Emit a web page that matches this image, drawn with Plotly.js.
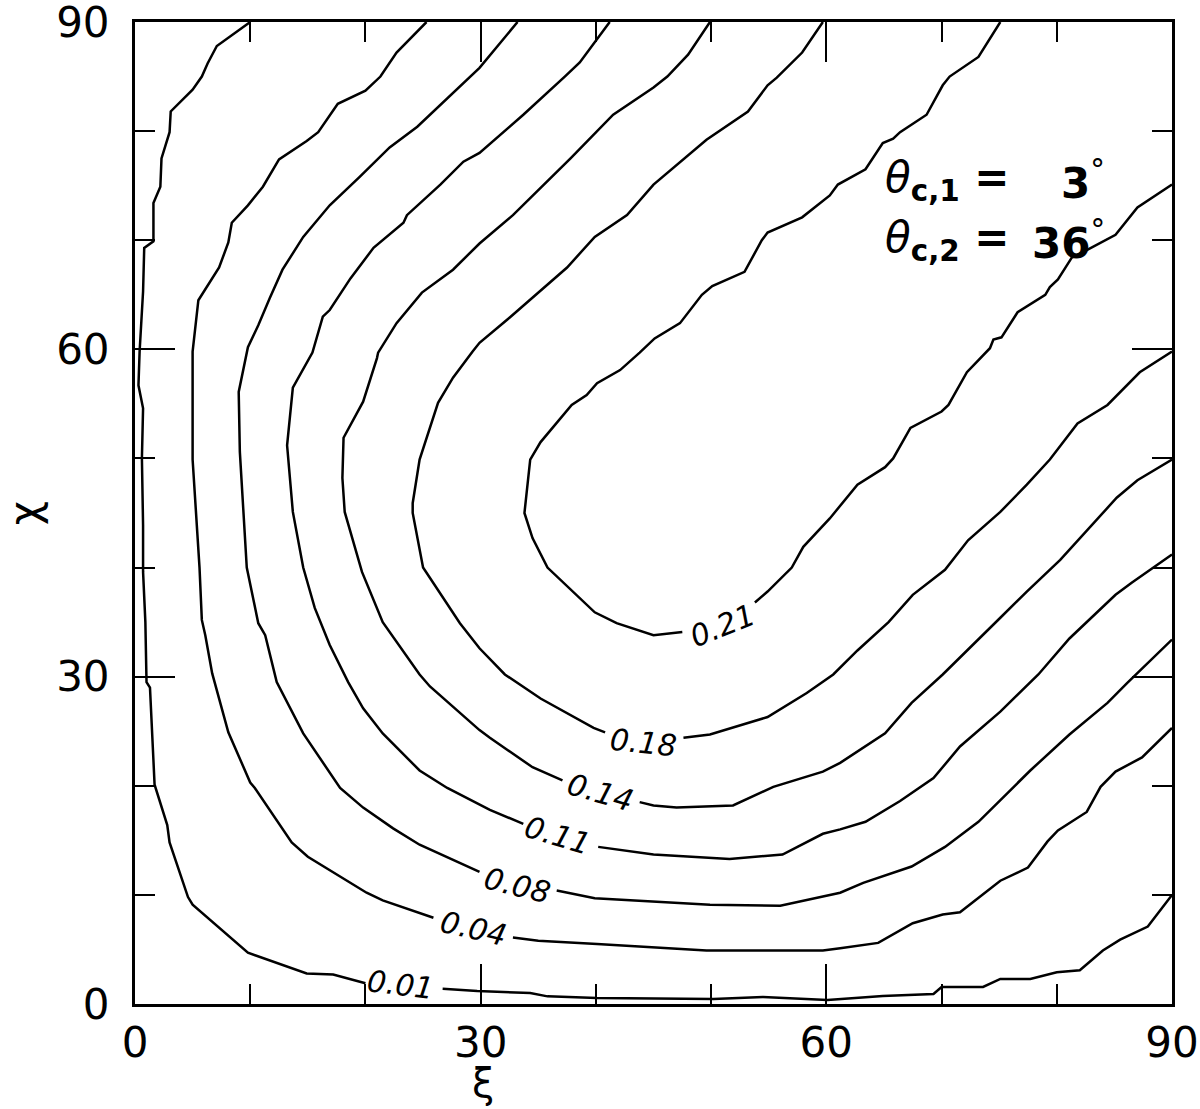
<!DOCTYPE html>
<html>
<head>
<meta charset="utf-8">
<script src="https://cdn.plot.ly/plotly-3.0.1.min.js"></script>
<style>
  body { margin: 0; background: #fff; }
  #chart { width: 1200px; height: 1109px; }
</style>
</head>
<body>
<div id="chart"></div>
<script>
// contour lines (xi, chi in degrees); null = gap where the label sits
const levels = ['0.01', '0.04', '0.08', '0.11', '0.14', '0.18', '0.21'];

const xi01  = [10.0, 7.1, 6.3, 5.8, 5.0, 3.1, 3.0, 2.3, 2.2, 1.6, 1.6, 0.8, 0.7, 0.4, 0.3, 0.7, 0.6, 0.7, 0.7, 0.9, 1.0, 1.3, 1.7, 2.8, 3.0, 4.6, 5.0, 9.8, 14.9, 17.2, 20.0,
               null, 26.7, 29.7, 34.3, 35.8, 40.1, 50.2, 54.5, 60.1, 64.9, 69.3, 70.0, 73.6, 75.1, 77.7, 80.0, 82.0, 84.0, 85.5, 87.9, 90.0];
const chi01 = [90.0, 87.8, 86.2, 85.0, 83.8, 81.8, 79.9, 77.5, 74.9, 73.4, 69.9, 69.3, 65.3, 59.8, 56.7, 54.6, 50.0, 43.9, 39.6, 35.0, 29.5, 29.0, 20.1, 16.4, 14.8, 9.8, 9.1, 4.7, 2.8, 2.7, 1.9,
               null, 1.4, 1.2, 1.0, 0.7, 0.55, 0.46, 0.64, 0.37, 0.73, 0.92, 1.56, 1.56, 2.3, 2.3, 2.9, 3.1, 4.9, 5.9, 7.1, 10.0];

const xi04  = [25.3, 22.7, 21.3, 20.0, 17.6, 15.9, 14.9, 12.5, 11.1, 9.8, 8.4, 8.1, 7.3, 5.5, 5.0, 5.0, 5.4, 5.6, 5.8, 6.1, 6.7, 7.4, 8.1, 10.0, 10.4, 13.6, 15.0, 20.1, 21.5, 25.9,
               null, 32.8, 35.0, 40.1, 49.6, 54.5, 59.7, 61.2, 64.5, 67.5, 70.1, 71.6, 75.1, 77.5, 79.2, 80.1, 82.6, 83.8, 85.1, 87.4, 90.0];
const chi04 = [90.0, 87.2, 85.0, 83.7, 82.5, 79.9, 79.1, 77.4, 74.9, 73.2, 71.6, 69.8, 67.5, 64.5, 59.8, 49.9, 43.3, 40.0, 35.2, 33.8, 30.3, 27.7, 24.9, 20.3, 19.8, 14.8, 13.5, 10.2, 9.5, 7.9,
               null, 6.1, 5.8, 5.5, 4.9, 4.9, 4.9, 5.1, 5.6, 7.4, 8.2, 8.4, 11.3, 12.5, 14.9, 15.9, 17.6, 19.9, 21.3, 22.6, 25.3];

const xi08  = [33.2, 29.9, 24.5, 22.1, 19.5, 16.9, 14.6, 12.8, 11.7, 10.7, 9.8, 9.0, 9.1, 9.7, 10.7, 11.3, 12.3, 14.6, 17.8, 19.8, 22.4, 24.7, 29.9,
               null, 36.6, 39.9, 49.9, 56.0, 61.2, 63.2, 67.4, 70.3, 73.2, 77.7, 81.1, 84.4, 86.1, 90.0];
const chi08 = [90.0, 85.8, 80.4, 78.5, 75.8, 73.2, 70.3, 67.3, 64.7, 62.2, 60.2, 56.1, 50.6, 40.0, 34.9, 33.8, 29.5, 24.8, 19.8, 18.0, 16.1, 14.6, 12.1,
               null, 10.4, 9.7, 9.1, 9.0, 10.2, 11.1, 12.6, 14.4, 16.7, 21.4, 24.7, 27.6, 29.4, 33.4];

const xi11  = [41.2, 38.6, 37.3, 33.7, 29.9, 28.5, 26.5, 23.6, 23.3, 20.7, 18.7, 16.9, 16.3, 15.4, 13.7, 13.3, 13.2, 13.7, 14.6, 15.6, 16.9, 18.5, 19.8, 21.5, 24.7, 27.1, 30.8, 33.7,
               null, 40.2, 45.0, 51.6, 56.2, 59.7, 61.2, 63.4, 66.4, 69.3, 71.6, 75.1, 78.4, 81.1, 85.1, 86.5, 90.0];
const chi11 = [90.0, 86.3, 85.0, 81.5, 78.0, 77.2, 75.1, 72.3, 71.6, 69.3, 66.5, 63.6, 63.0, 59.7, 56.5, 52.1, 51.2, 45.1, 40.0, 36.3, 32.9, 29.5, 27.1, 24.8, 21.4, 19.8, 17.8, 16.5,
               null, 14.4, 13.7, 13.3, 13.7, 15.6, 16.0, 16.7, 18.6, 20.7, 23.6, 26.8, 30.2, 33.5, 37.5, 38.6, 41.2];

const xi14  = [49.9, 48.0, 46.2, 45.0, 41.5, 37.8, 32.8, 29.9, 27.6, 24.9, 22.7, 21.1, 21.0, 19.8, 18.1, 18.0, 18.2, 19.7, 21.5, 24.7, 25.6, 29.9, 30.8, 34.5, 37.1,
               null, 43.8, 45.0, 47.0, 51.9, 55.4, 59.7, 61.2, 65.1, 67.4, 70.1, 75.1, 77.4, 80.3, 82.0, 84.4, 85.2, 87.0, 90.0];
const chi14 = [90.0, 87.0, 85.0, 84.0, 81.5, 77.5, 72.3, 69.7, 67.3, 65.2, 62.4, 59.7, 59.2, 55.2, 51.9, 48.2, 45.1, 39.6, 35.0, 30.2, 29.1, 25.1, 24.4, 21.7, 20.5,
               null, 18.5, 18.2, 18.0, 18.2, 19.9, 21.3, 22.1, 24.8, 27.6, 30.2, 35.4, 37.8, 40.7, 42.7, 45.5, 46.4, 48.0, 49.9];

const xi18  = [59.7, 57.9, 55.7, 54.9, 53.2, 50.2, 49.6, 45.0, 42.7, 39.9, 37.5, 32.5, 29.9, 29.3, 27.6, 26.3, 24.7, 24.1, 24.1, 25.0, 28.2, 29.9, 32.1, 35.2, 39.8, 40.8,
               null, 47.6, 49.9, 54.9, 58.3, 60.6, 62.7, 65.4, 67.5, 70.3, 72.3, 75.1, 77.4, 79.4, 81.8, 84.4, 87.2, 90.0];
const chi18 = [90.0, 87.2, 84.9, 84.2, 81.8, 79.6, 79.2, 75.1, 72.3, 70.3, 67.5, 62.9, 60.6, 59.8, 57.4, 55.1, 49.9, 45.9, 45.0, 40.0, 34.9, 32.6, 30.2, 28.0, 25.3, 24.9,
               null, 24.4, 24.7, 26.3, 28.5, 30.2, 32.4, 35.0, 37.5, 39.8, 42.5, 45.1, 47.6, 49.9, 53.2, 54.9, 57.9, 59.8];

const xi21  = [75.1, 73.2, 70.7, 70.1, 68.7, 66.4, 65.8, 64.9, 63.4, 61.0, 60.3, 57.9, 54.9, 54.4, 52.9, 50.1, 49.2, 47.3, 45.1, 43.8, 42.1, 40.1, 39.2, 37.9, 35.2, 34.3, 33.8, 34.5, 35.8, 39.9, 41.8, 45.0, 47.5,
               null, 53.8, 54.9, 57.0, 58.0, 60.3, 62.7, 65.1, 65.8, 67.3, 70.0, 70.6, 72.2, 74.2, 74.5, 75.2, 76.6, 79.0, 79.4, 80.1, 81.3, 82.6, 85.1, 87.0, 90.0];
const chi21 = [90.0, 86.8, 85.0, 84.2, 81.5, 79.9, 79.3, 78.9, 76.5, 75.1, 74.1, 72.1, 70.7, 70.0, 67.1, 65.8, 65.0, 62.4, 61.0, 59.7, 58.1, 56.9, 55.8, 54.9, 51.5, 49.9, 45.0, 42.7, 40.0, 35.9, 34.9, 33.8, 34.1,
               null, 36.8, 37.8, 40.0, 41.9, 44.5, 47.6, 49.2, 50.0, 52.8, 54.3, 54.9, 57.9, 60.1, 60.9, 61.1, 63.4, 65.0, 65.7, 66.4, 68.4, 69.1, 70.5, 73.0, 75.1];

// contour label positions and angles
const labelXi    = [23.0, 29.4, 33.2, 36.7, 40.4, 44.1, 51.0];
const labelChi   = [1.8, 6.9, 10.9, 15.4, 19.4, 24.0, 34.7];
const labelAngle = [7, 13, 14, 17, 16, 6, -22];

const xiLines  = [xi01, xi04, xi08, xi11, xi14, xi18, xi21];
const chiLines = [chi01, chi04, chi08, chi11, chi14, chi18, chi21];

const traces = levels.map((lv, i) => ({
    x: xiLines[i],
    y: chiLines[i],
    name: lv,
    mode: 'lines',
    type: 'scatter',
    connectgaps: false,
    cliponaxis: true,
    line: { color: 'black', width: 2.5 },
    hoverinfo: 'skip'
}));

const annotations = levels.map((lv, i) => ({
    x: labelXi[i], y: labelChi[i], xref: 'x', yref: 'y',
    text: lv, showarrow: false, textangle: labelAngle[i],
    font: { family: 'DejaVu Sans', size: 30, color: 'black', style: 'italic' }
}));

const bigFont = { family: 'DejaVu Sans', size: 42, color: 'black' };
annotations.push(
    { x: 64.9, y: 75.5, xref: 'x', yref: 'y', xanchor: 'left', showarrow: false,
      text: '<i>θ</i><b><sub>c,1</sub> =</b>', font: bigFont },
    { x: 84.4, y: 75.5, xref: 'x', yref: 'y', xanchor: 'right', showarrow: false,
      text: '<b>3</b><sup>°</sup>', font: bigFont },
    { x: 64.9, y: 70.0, xref: 'x', yref: 'y', xanchor: 'left', showarrow: false,
      text: '<i>θ</i><b><sub>c,2</sub> =</b>', font: bigFont },
    { x: 84.4, y: 70.0, xref: 'x', yref: 'y', xanchor: 'right', showarrow: false,
      text: '<b>36</b><sup>°</sup>', font: bigFont },
    // x axis title sits under the 30 tick in the original
    { x: 30.2, y: -0.080, xref: 'x', yref: 'paper', showarrow: false, yanchor: 'middle',
      text: 'ξ', font: { family: 'DejaVu Sans', size: 40, color: 'black' } }
);

const axisCommon = {
    range: [0, 90],
    tickvals: [0, 30, 60, 90],
    ticks: 'inside',
    ticklen: 40,
    tickwidth: 2,
    tickcolor: 'black',
    minor: { dtick: 10, ticks: 'inside', ticklen: 20, tickwidth: 2, tickcolor: 'black', showgrid: false },
    showline: true,
    linecolor: 'black',
    linewidth: 3,
    mirror: 'ticks',
    showgrid: false,
    zeroline: false,
    ticklabeloverflow: 'allow',
    tickfont: { family: 'DejaVu Sans', size: 42, color: 'black' }
};

const layout = {
    width: 1200,
    height: 1109,
    margin: { l: 135, r: 28, t: 22, b: 105 },
    paper_bgcolor: 'white',
    plot_bgcolor: 'white',
    showlegend: false,
    xaxis: Object.assign({}, axisCommon, { ticklabelstandoff: 0 }),
    yaxis: Object.assign({}, axisCommon, {
        ticklabelstandoff: 14,
        title: { text: 'χ', font: { family: 'DejaVu Sans', size: 42, color: 'black' }, standoff: 8 }
    }),
    annotations: annotations
};

Plotly.newPlot('chart', traces, layout, { staticPlot: true });
</script>
</body>
</html>
